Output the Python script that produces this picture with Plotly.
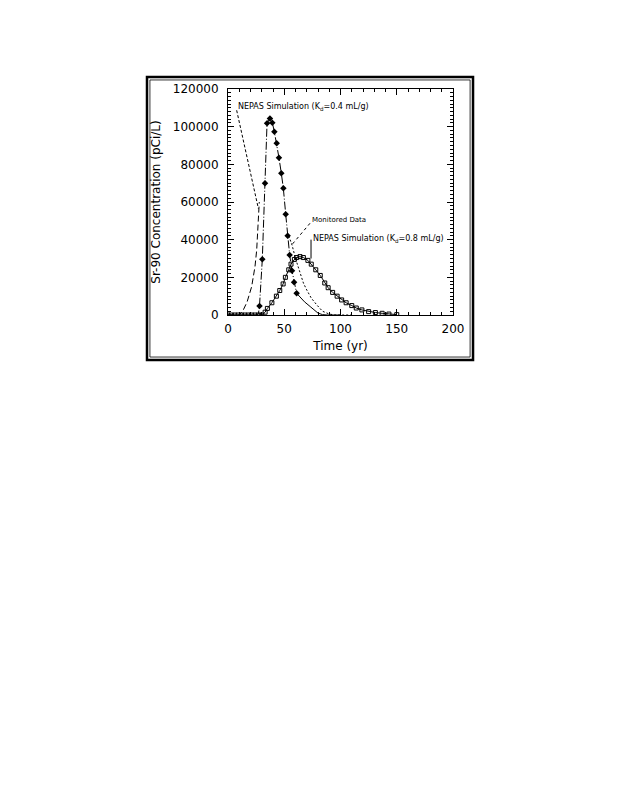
import plotly.graph_objects as go

# ---- data ----
# NEPAS simulation (Kd=0.4 mL/g), long dashed curve
t_sim04 = [0, 10, 13.6, 17, 21, 24, 25.5, 27, 27.8]
c_sim04 = [0, 0, 2700, 7000, 15000, 25700, 34500, 52200, 60000]

# dash-dot curve with filled diamond markers
t_dd = [0, 20, 25, 27, 28, 30.5, 32.9, 34.7, 37.3, 39.4, 41.2, 43.3, 45.3,
        47.4, 49.2, 51.3, 53, 54.8, 56.9, 58.7, 61]
c_dd = [0, 0, 0, 600, 4800, 29600, 69900, 101800, 104400, 102100, 97300,
        91200, 83500, 75200, 67300, 53500, 42100, 31900, 23500, 17400, 11500]
t_diam = [28, 30.5, 32.9, 34.7, 37.3, 39.4, 41.2, 43.3, 45.3, 47.4, 49.2,
          51.3, 53, 54.8, 56.9, 58.7, 61]
c_diam = [4800, 29600, 69900, 101800, 104400, 102100, 97300, 91200, 83500,
          75200, 67300, 53500, 42100, 31900, 23500, 17400, 11500]

# solid tail after the last diamond
t_tail = [61, 64, 68, 73, 77, 80, 84, 88, 100]
c_tail = [11500, 9500, 7000, 4500, 2500, 1000, 200, 0, 0]

# dotted curve
t_dot = [54, 57, 60, 64, 67, 70, 74, 79, 84, 90, 95, 110]
c_dot = [42000, 37000, 30000, 22100, 17000, 13300, 9000, 5300, 2000, 500, 0, 0]

# NEPAS simulation (Kd=0.8 mL/g), open squares
t_sq = [0, 3, 6, 9, 12, 15, 18, 21, 24, 27, 30, 33, 35, 39, 43, 46, 49, 51,
        54, 56, 59, 61, 64, 67, 71, 74, 78, 82, 86, 89, 93, 97, 101, 105, 110,
        114, 119, 125, 131, 137, 143, 150]
c_sq = [0, 0, 0, 0, 0, 0, 0, 0, 0, 0, 0, 1500, 3500, 6500, 10000, 13000,
        16500, 20000, 24000, 27000, 29500, 30500, 31000, 30500, 29000, 27000,
        24000, 21000, 17000, 14500, 12000, 10000, 8000, 6500, 5000, 3700, 2700,
        1800, 1300, 900, 500, 200]

x_ticks = [0, 50, 100, 150, 200]
y_ticks = [0, 20000, 40000, 60000, 80000, 100000, 120000]

# labels and their leader lines (data coordinates)
labels = ["NEPAS Simulation (K<sub>d</sub>=0.4 mL/g)", "Monitored Data",
          "NEPAS Simulation (K<sub>d</sub>=0.8 mL/g)"]
label_size = [8, 7, 8]
label_x = [7.0, 73.0, 74.0]
label_y = [110500, 50300, 40600]
leader_x0 = [7.7, 72.9, 73.8]
leader_y0 = [108700, 48700, 40000]
leader_x1 = [27.0, 56.6, 73.8]
leader_y1 = [56500, 37200, 30000]
leader_dash = ["3px,2px", "dot", "solid"]

FONT = "DejaVu Sans"

fig = go.Figure()
fig.add_trace(go.Scatter(x=t_sq, y=c_sq, mode="lines+markers",
                         line=dict(color="black", width=1),
                         marker=dict(symbol="square-open", size=4, color="black",
                                     line=dict(width=1, color="black"))))
fig.add_trace(go.Scatter(x=t_sim04, y=c_sim04, mode="lines",
                         line=dict(color="black", width=1, dash="6px,3px")))
fig.add_trace(go.Scatter(x=t_dd, y=c_dd, mode="lines",
                         line=dict(color="black", width=1, dash="8px,2px,1px,2px")))
fig.add_trace(go.Scatter(x=t_diam, y=c_diam, mode="markers",
                         marker=dict(symbol="diamond", size=5, color="black")))
fig.add_trace(go.Scatter(x=t_tail, y=c_tail, mode="lines",
                         line=dict(color="black", width=1)))
fig.add_trace(go.Scatter(x=t_dot, y=c_dot, mode="lines",
                         line=dict(color="black", width=1, dash="2px,2px")))

shapes = []
for i in range(len(labels)):
    shapes.append(dict(type="line", xref="x", yref="y",
                       x0=leader_x0[i], y0=leader_y0[i],
                       x1=leader_x1[i], y1=leader_y1[i],
                       line=dict(color="black", width=1, dash=leader_dash[i])))
# double outer frame (paper coordinates)
shapes.append(dict(type="rect", xref="paper", yref="paper",
                   x0=-0.36, x1=1.089, y0=-0.199, y1=1.053,
                   line=dict(color="black", width=2.5)))
shapes.append(dict(type="rect", xref="paper", yref="paper",
                   x0=-0.347, x1=1.076, y0=-0.186, y1=1.040,
                   line=dict(color="black", width=0.8)))

annotations = []
for i in range(len(labels)):
    annotations.append(dict(x=label_x[i], y=label_y[i], xref="x", yref="y",
                            text=labels[i], showarrow=False, xanchor="left",
                            yanchor="middle",
                            font=dict(family=FONT, size=label_size[i], color="black")))

fig.update_layout(
    width=618, height=800,
    margin=dict(l=220, r=173, t=81, b=493),
    paper_bgcolor="white", plot_bgcolor="white",
    showlegend=False,
    shapes=shapes, annotations=annotations,
    font=dict(family=FONT, color="black"),
)
fig.update_xaxes(range=[0, 200], tickvals=x_ticks, ticktext=[str(v) for v in x_ticks],
                 ticks="inside", ticklen=6, tickwidth=1, tickcolor="black",
                 minor=dict(dtick=10, ticks="inside", ticklen=3, tickcolor="black"),
                 showline=True, linecolor="black", linewidth=1, mirror="ticks",
                 showgrid=False, zeroline=False,
                 tickfont=dict(family=FONT, size=12, color="black"),
                 ticklabelstandoff=3,
                 title=dict(text="Time (yr)", font=dict(family=FONT, size=12, color="black"),
                            standoff=6))
fig.update_yaxes(range=[0, 120000], tickvals=y_ticks, ticktext=[str(v) for v in y_ticks],
                 ticks="inside", ticklen=6, tickwidth=1, tickcolor="black",
                 minor=dict(dtick=2000, ticks="inside", ticklen=3, tickcolor="black"),
                 showline=True, linecolor="black", linewidth=1, mirror="ticks",
                 showgrid=False, zeroline=False,
                 tickfont=dict(family=FONT, size=12, color="black"),
                 ticklabelstandoff=6,
                 title=dict(text="Sr-90 Concentration (pCi/L)",
                            font=dict(family=FONT, size=12, color="black"),
                            standoff=9))

fig.write_html("out.html")
